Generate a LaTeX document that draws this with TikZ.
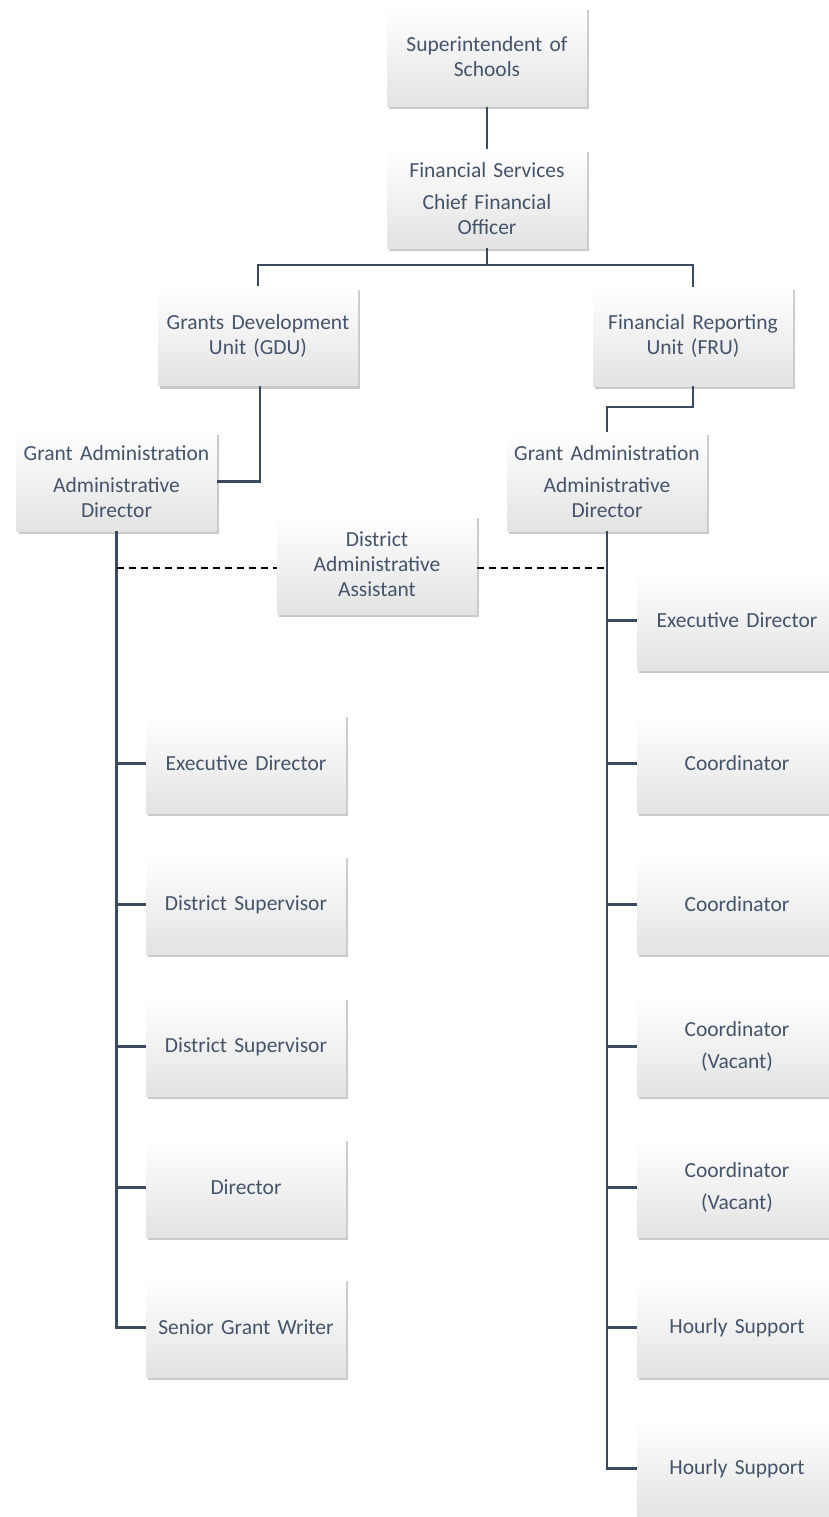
\documentclass[tikz,border=0pt]{standalone}
\usepackage{fontspec}
\setmainfont{Carlito}
\usetikzlibrary{shadows}
\definecolor{txt}{HTML}{44546A}
\definecolor{ln}{HTML}{3B4A5F}
\tikzset{
  box/.style={rectangle, minimum width=200pt, minimum height=99pt, inner sep=0pt,
    text width=198pt, align=center, top color=white, bottom color=black!11,
    draw=none, text=txt, font=\fontsize{21.5}{25}\selectfont,
    drop shadow={shadow xshift=2pt, shadow yshift=-3pt, opacity=0.35, fill=black!60}},
  conn/.style={draw=ln, line width=2.8pt},
  dconn/.style={draw=black, line width=1.6pt, dash pattern=on 7pt off 5pt}
}
\begin{document}
\begin{tikzpicture}[x=1pt,y=-1pt]
\useasboundingbox (0,0) rectangle (828,1517);
% nodes
\node[box] (sup) at (487,57) {Superintendent of\\Schools};
\node[box] (fs) at (487,198.5) {Financial Services\\[7pt]Chief Financial\\Officer};
\node[box] (gdu) at (258,336) {Grants Development\\Unit (GDU)};
\node[box] (fru) at (693,336.5) {Financial Reporting\\Unit (FRU)};
\node[box] (gal) at (116.5,481.5) {Grant Administration\\[7pt]Administrative\\Director};
\node[box] (gar) at (607,481.5) {Grant Administration\\[7pt]Administrative\\Director};
\node[box] (daa) at (377,564.5) {District\\Administrative\\Assistant};
% left column
\node[box] (l1) at (246,763.5) {Executive Director};
\node[box] (l2) at (246,904.5) {District Supervisor};
\node[box] (l3) at (246,1046.5) {District Supervisor};
\node[box] (l4) at (246,1187.5) {Director};
\node[box] (l5) at (246,1327.5) {Senior Grant Writer};
% right column
\node[box] (r1) at (737,620.5) {Executive Director};
\node[box] (r2) at (737,763.5) {Coordinator};
\node[box] (r3) at (737,904.5) {Coordinator};
\node[box] (r4) at (737,1046.5) {Coordinator\\[7pt](Vacant)};
\node[box] (r5) at (737,1187.5) {Coordinator\\[7pt](Vacant)};
\node[box] (r6) at (737,1327.5) {Hourly Support};
\node[box] (r7) at (737,1468.5) {Hourly Support};
% coordinates
\coordinate (jfs) at (487,265);
% connectors
\draw[conn] (sup.south) -- (fs.north);
\draw[conn] (fs.south) -- (jfs) -| (gdu.north);
\draw[conn] (jfs) -| (fru.north);
\draw[conn] (gdu.south -| 260,0) |- (gal.east);
\draw[conn] (fru.south) |- (607,407) -- (gar.north);
\draw[conn] (gal.south) -- (gal.south |- l5.west) -- (l5.west);
\draw[conn] (gar.south) -- (gar.south |- r7.west) -- (r7.west);
\foreach \n in {l1,l2,l3,l4} \draw[conn] (\n.west -| gal.south) -- (\n.west);
\foreach \n in {r1,r2,r3,r4,r5,r6} \draw[conn] (\n.west -| gar.south) -- (\n.west);
\draw[dconn] ([yshift=-3.5pt]daa.west -| gal.south) -- ([yshift=-3.5pt]daa.west);
\draw[dconn] ([yshift=-3.5pt]daa.east) -- ([yshift=-3.5pt]daa.east -| gar.south);
\end{tikzpicture}
\end{document}
